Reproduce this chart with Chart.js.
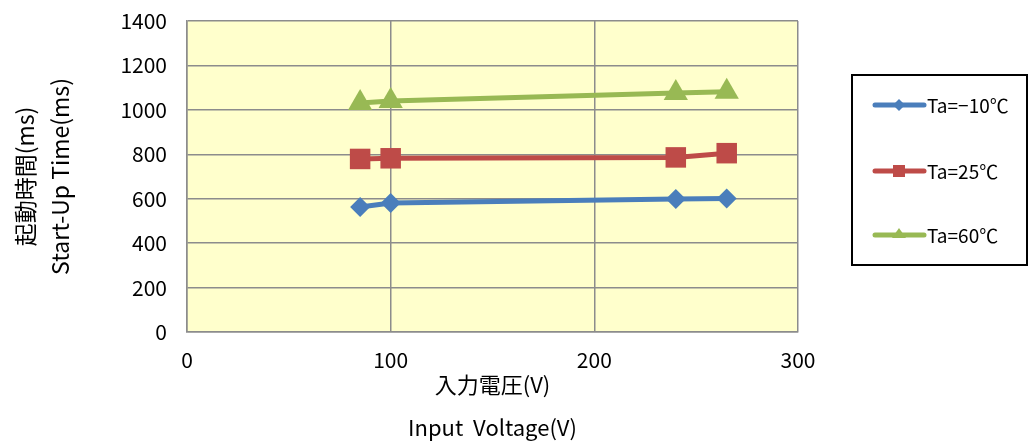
<!DOCTYPE html>
<html>
<head>
<meta charset="utf-8">
<script src="https://cdn.jsdelivr.net/npm/chart.js@4.4.0/dist/chart.umd.min.js"></script>
<style>
  html, body { margin: 0; padding: 0; background: #fff; }
  #wrap { width: 1028px; height: 441px; }
</style>
</head>
<body>
<div id="wrap"><canvas id="chart" width="1028" height="441"></canvas></div>
<script>
// input voltage (V)
var voltages = [85, 100, 240, 265];
// start-up time (ms) per ambient temperature
var seriesNames = ['Ta=\u221210\u2103', 'Ta=25\u2103', 'Ta=60\u2103'];
var tempMinus10 = [563, 581, 599, 601];
var temp25 = [779, 782, 786, 805];
var temp60 = [1031, 1040, 1076, 1081];
var xTicks = [0, 100, 200, 300];
var yTicks = [0, 200, 400, 600, 800, 1000, 1200, 1400];

var fontFamily = '"Noto Sans CJK JP", "Noto Sans", sans-serif';

function toPoints(values) {
  return voltages.map(function (v, i) { return { x: v, y: values[i] }; });
}

// yellow plot area
var plotBackground = {
  id: 'plotBackground',
  beforeDraw: function (chart) {
    var a = chart.chartArea, ctx = chart.ctx;
    ctx.save();
    ctx.fillStyle = '#FFFFCC';
    ctx.fillRect(a.left, a.top, a.right - a.left, a.bottom - a.top);
    ctx.restore();
  }
};

// boxed legend on the right, like the spreadsheet one
var boxLegend = {
  id: 'boxLegend',
  afterDraw: function (chart) {
    var ctx = chart.ctx;
    ctx.save();
    ctx.strokeStyle = '#000';
    ctx.lineWidth = 2;
    ctx.strokeRect(852, 75, 175, 190);
    var rows = [105, 171, 235];
    chart.data.datasets.forEach(function (ds, i) {
      var y = rows[i];
      ctx.strokeStyle = ds.borderColor;
      ctx.lineWidth = 5;
      ctx.lineCap = 'round';
      ctx.beginPath();
      ctx.moveTo(875, y);
      ctx.lineTo(924, y);
      ctx.stroke();
      ctx.fillStyle = ds.borderColor;
      ctx.beginPath();
      if (ds.pointStyle === 'rectRot') {
        ctx.moveTo(899, y - 6); ctx.lineTo(905, y); ctx.lineTo(899, y + 6); ctx.lineTo(893, y);
      } else if (ds.pointStyle === 'rect') {
        ctx.rect(893, y - 6, 12, 12);
      } else {
        ctx.moveTo(899, y - 7); ctx.lineTo(906, y + 3); ctx.lineTo(892, y + 3);
      }
      ctx.closePath();
      ctx.fill();
      ctx.fillStyle = '#000';
      ctx.font = '19px ' + fontFamily;
      ctx.textBaseline = 'middle';
      ctx.textAlign = 'left';
      ctx.fillText(ds.label, 927, y + 1);
    });
    ctx.restore();
  }
};

new Chart(document.getElementById('chart'), {
  type: 'line',
  data: {
    datasets: [
      {
        label: seriesNames[0], data: toPoints(tempMinus10),
        borderColor: '#4A7EBB', backgroundColor: '#4A7EBB',
        borderWidth: 5, pointBorderWidth: 0,
        pointStyle: 'rectRot', pointRadius: 10, pointHoverRadius: 10
      },
      {
        label: seriesNames[1], data: toPoints(temp25),
        borderColor: '#BE4B48', backgroundColor: '#BE4B48',
        borderWidth: 5, pointBorderWidth: 0,
        pointStyle: 'rect', pointRadius: 14.5, pointHoverRadius: 14.5
      },
      {
        label: seriesNames[2], data: toPoints(temp60),
        borderColor: '#98B954', backgroundColor: '#98B954',
        borderWidth: 5, pointBorderWidth: 0,
        pointStyle: 'triangle', pointRadius: 14, pointHoverRadius: 14
      }
    ]
  },
  options: {
    responsive: false,
    animation: false,
    layout: { padding: { top: 21, right: 230, left: 0, bottom: 0 } },
    plugins: {
      legend: { display: false },
      tooltip: { enabled: false }
    },
    scales: {
      x: {
        type: 'linear', min: 0, max: 300,
        afterBuildTicks: function (axis) { axis.ticks = xTicks.map(function (v) { return { value: v }; }); },
        afterFit: function (axis) {
          axis.height = 109;
          axis.paddingTop = 0; axis.paddingBottom = 0;
        },
        grid: { color: '#8C8C8C', lineWidth: 1.5, drawTicks: false },
        border: { color: '#8C8C8C', width: 1.5 },
        ticks: {
          color: '#000', padding: 15, font: { family: fontFamily, size: 21 },
          callback: function (v) { return String(v); }
        },
        title: {
          display: true, text: ['\u5165\u529b\u96fb\u5727(V)', 'Input  Voltage(V)'],
          color: '#000', font: { family: fontFamily, size: 22, lineHeight: 1.95 },
          padding: { top: 0, bottom: -8 }
        }
      },
      y: {
        min: 0, max: 1400,
        afterBuildTicks: function (axis) { axis.ticks = yTicks.map(function (v) { return { value: v }; }); },
        afterFit: function (axis) {
          axis.width = 187;
          axis.paddingTop = 0; axis.paddingBottom = 0;
        },
        grid: { color: '#8C8C8C', lineWidth: 1.5, drawTicks: false },
        border: { color: '#8C8C8C', width: 1.5 },
        ticks: {
          color: '#000', padding: 20, font: { family: fontFamily, size: 21 },
          callback: function (v) { return String(v); }
        },
        title: {
          display: true, text: ['\u8d77\u52d5\u6642\u9593(ms)', 'Start-Up Time(ms)'],
          color: '#000', font: { family: fontFamily, size: 23, lineHeight: 1.52 },
          padding: { top: 8, bottom: 0 }
        }
      }
    }
  },
  plugins: [plotBackground, boxLegend]
});
</script>
</body>
</html>
